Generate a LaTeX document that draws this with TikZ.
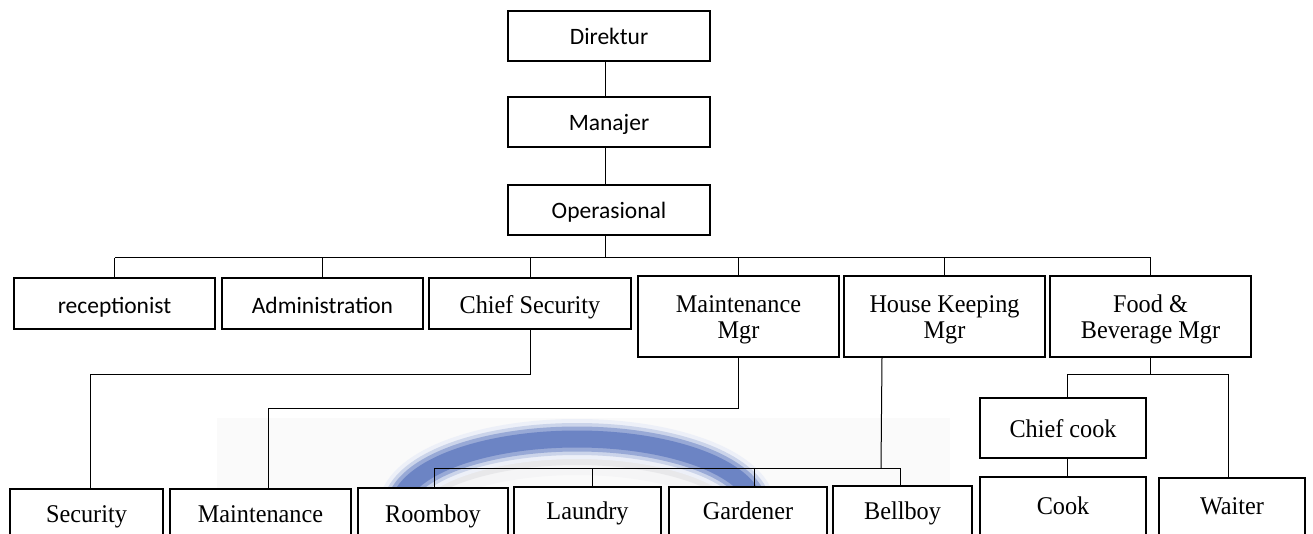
\documentclass[tikz,border=0pt]{standalone}
\usepackage{fontspec}
\setmainfont{Liberation Serif}[FakeStretch=0.95]
\newfontfamily\calibrifam{Carlito}
\usetikzlibrary{calc}
\definecolor{ringblue}{RGB}{108,132,196}
\definecolor{ringshade}{RGB}{150,150,160}
\newcommand\sanstxt{\calibrifam\fontsize{23.5}{28}\selectfont}
\newcommand\seriftxt{\fontsize{25.5}{26}\selectfont}
\begin{document}
\begin{tikzpicture}[x=1pt,y=-1pt,
  box/.style={draw, line width=2.4pt, fill=white, inner sep=0pt, outer sep=0pt, align=center, font=\seriftxt, anchor=north},
  sbox/.style={box, font=\sanstxt},
  tb/.style 2 args={text height=#1, text depth=#2},
  conn/.style={line width=1pt}]
\path[use as bounding box] (0,0) rectangle (1313,534);
\clip (0,0) rectangle (1313,534);
\fill[white] (0,0) rectangle (1313,534);
% faint watermark background
\fill[black!2] (217,418) rectangle (950,534);
\draw[ringshade!10, line width=48pt] (577,522) ellipse [x radius=179pt, y radius=71pt];
\draw[ringshade!22, line width=36pt] (577,518) ellipse [x radius=179pt, y radius=71pt];
\draw[ringblue!12, line width=40pt] (577,510) ellipse [x radius=179pt, y radius=71pt];
\draw[ringblue!35, line width=32pt] (577,510) ellipse [x radius=179pt, y radius=71pt];
\draw[ringblue!70, line width=25pt] (577,510) ellipse [x radius=179pt, y radius=71pt];
\draw[ringblue, line width=17pt] (577,510) ellipse [x radius=179pt, y radius=71pt];
% top levels
\node[sbox, minimum width=202pt, tb={33.5pt}{16.5pt}] (dir) at (609,11) {Direktur};
\node[sbox, minimum width=202pt, tb={33.5pt}{16.5pt}] (man) at (609,97) {Manajer};
\node[sbox, minimum width=202pt, tb={33.5pt}{16.5pt}] (ope) at (609,185) {Operasional};
% second level
\node[sbox, minimum width=201pt, tb={35pt}{16pt}] (rec) at (114.5,278) {receptionist};
\node[sbox, minimum width=201pt, tb={35pt}{16pt}] (adm) at (322.5,278) {Administration};
\node[box, minimum width=202pt, tb={35pt}{16pt}] (chs) at (530,278) {Chief Security};
\node[box, minimum width=201pt, tb={62pt}{19pt}] (mm) at (738.5,276) {Maintenance\\Mgr};
\node[box, minimum width=201pt, tb={62pt}{19pt}] (hk) at (944.5,276) {House Keeping\\Mgr};
\node[box, minimum width=201pt, tb={62pt}{19pt}] (fb) at (1150.5,276) {Food \&\\Beverage Mgr};
\node[box, minimum width=166pt, tb={39pt}{21pt}] (cc) at (1063,398) {Chief cook};
% bottom row
\node[box, minimum width=153pt, tb={33pt}{40pt}] (sec) at (86.5,489) {Security};
\node[box, minimum width=181pt, tb={33pt}{40pt}] (mnt) at (260.5,489) {Maintenance};
\node[box, minimum width=150pt, tb={34pt}{40pt}] (room) at (433,488) {Roomboy};
\node[box, minimum width=147pt, tb={32pt}{40pt}] (laun) at (587.5,487) {Laundry};
\node[box, minimum width=158pt, tb={32pt}{40pt}] (gard) at (748,487) {Gardener};
\node[box, minimum width=139pt, tb={33pt}{40pt}] (bell) at (902.5,486) {Bellboy};
\node[box, minimum width=166pt, tb={37pt}{40pt}] (cook) at (1063,477) {Cook};
\node[box, minimum width=146pt, tb={36pt}{40pt}] (wait) at (1232,478) {Waiter};
% connectors
\draw[conn] ([xshift=-4pt]dir.south) -- ([xshift=-4pt]man.north);
\draw[conn] ([xshift=-4pt]man.south) -- ([xshift=-4pt]ope.north);
\coordinate (bus) at (0,258);
\draw[conn] ([xshift=-4pt]ope.south) -- ([xshift=-4pt]ope.south |- bus);
\draw[conn] (rec.north |- bus) -- (fb.north |- bus);
\foreach \n in {rec,adm,chs,mm,hk,fb} \draw[conn] (\n.north) -- (\n.north |- bus);
\coordinate (c1) at (90,374);
\draw[conn] (chs.south) |- (c1) -- (c1 |- sec.north);
\coordinate (c2) at (268,408);
\draw[conn] (mm.south) |- (c2) -- (c2 |- mnt.north);
\coordinate (h0) at (882,0);
\coordinate (h1) at (881,468);
\draw[conn] (h0 |- hk.south) -- (h1);
\coordinate (hL) at (434,468);
\coordinate (hLa) at (592,468);
\coordinate (hG) at (754,468);
\coordinate (hR) at (900,468);
\draw[conn] (hL) -- (hR);
\draw[conn] (hL) -- (hL |- room.north);
\draw[conn] (hLa) -- (hLa |- laun.north);
\draw[conn] (hG) -- (hG |- gard.north);
\draw[conn] (hR) -- (hR |- bell.north);
\coordinate (f1) at (0,374);
\draw[conn] (fb.south) -- (fb.south |- f1);
\coordinate (fL) at (1067,374);
\coordinate (fR) at (1228,374);
\draw[conn] (fL) -- (fR);
\draw[conn] (fL) -- (fL |- cc.north);
\draw[conn] (fR) -- (fR |- wait.north);
\draw[conn] (fL |- cc.south) -- (fL |- cook.north);
\end{tikzpicture}
\end{document}
